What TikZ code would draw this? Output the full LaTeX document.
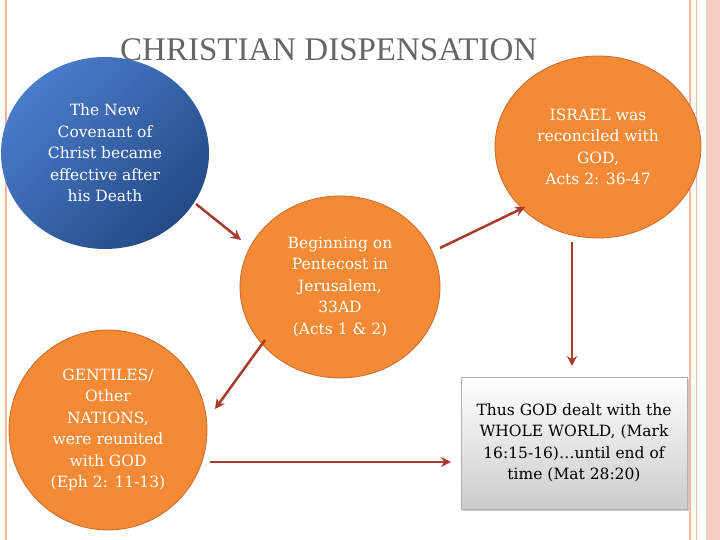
\documentclass[tikz,border=0pt]{standalone}
\usepackage{fontspec}
\setmainfont{Liberation Serif}
\newfontfamily\bodyf{DejaVu Serif}
\usetikzlibrary{shapes.geometric,arrows.meta,shadows}
\definecolor{org}{HTML}{F58A36}
\definecolor{orgd}{HTML}{C8692A}
\definecolor{arr}{HTML}{A93A2E}
\definecolor{pinkb}{HTML}{F2B7A6}
\definecolor{bl1}{HTML}{4A7CCB}
\definecolor{bl2}{HTML}{244A86}
\begin{document}
\begin{tikzpicture}[x=1pt,y=-1pt,
  bt/.style={font=\bodyf\fontsize{15.5}{21.5}\selectfont},
  oc/.style={ellipse,fill=org,draw=orgd,line width=0.8pt,text=white,align=center,bt,inner sep=0pt},
  ar/.style={draw=arr,line width=2.5pt,-{Stealth[length=10pt,width=10pt]}}]
\useasboundingbox (0,0) rectangle (720,540);
\fill[white] (0,0) rectangle (720,540);
\draw[pinkb,line width=1.5pt] (6,0) -- (6,540);
\draw[pinkb,line width=1.5pt] (690,0) -- (690,540);
\draw[pinkb,line width=1pt] (696,0) -- (696,540);
\fill[pinkb!70] (706,0) rectangle (720,540);
\node[text=gray!80!black,font=\fontsize{33}{36}\selectfont,anchor=west,inner sep=0pt] (title) at (120,50) {CHRISTIAN DISPENSATION};
\node[shade,left color=bl1,right color=bl2,shading angle=45,ellipse,minimum width=208,minimum height=192,text=white,align=center,bt,inner sep=0pt] (a) at (105,153) {The New\\Covenant of\\Christ became\\effective after\\his Death};
\node[oc,minimum width=206,minimum height=182] (b) at (598,147) {ISRAEL was\\reconciled with\\GOD,\\Acts 2: 36-47};
\node[oc,minimum width=200,minimum height=182] (c) at (340,287) {Beginning on\\Pentecost in\\Jerusalem,\\33AD\\(Acts 1 \& 2)};
\node[oc,minimum width=198,minimum height=200] (d) at (108,430) {GENTILES/\\Other\\NATIONS,\\were reunited\\with GOD\\(Eph 2: 11-13)};
\node[draw=gray!60,top color=white,bottom color=gray!40,minimum width=226,minimum height=132,align=center,bt,inner sep=2pt,drop shadow={opacity=0.4}] (e) at (574,443) {Thus GOD dealt with the\\WHOLE WORLD, (Mark\\16:15-16)\ldots until end of\\time (Mat 28:20)};
\coordinate (a1) at (196,204); \coordinate (c1) at (241,240);
\draw[ar] (a1) -- (c1);
\coordinate (c2) at (440,248); \coordinate (b1) at (525,207);
\draw[ar] (c2) -- (b1);
\coordinate (b2) at (572,242); \coordinate (e1) at (572,366);
\draw[ar] (b2) -- (e1);
\coordinate (c3) at (265,340); \coordinate (d1) at (215,409);
\draw[ar] (c3) -- (d1);
\coordinate (d2) at (210,462); \coordinate (e2) at (451,462);
\draw[ar] (d2) -- (e2);
\end{tikzpicture}
\end{document}
